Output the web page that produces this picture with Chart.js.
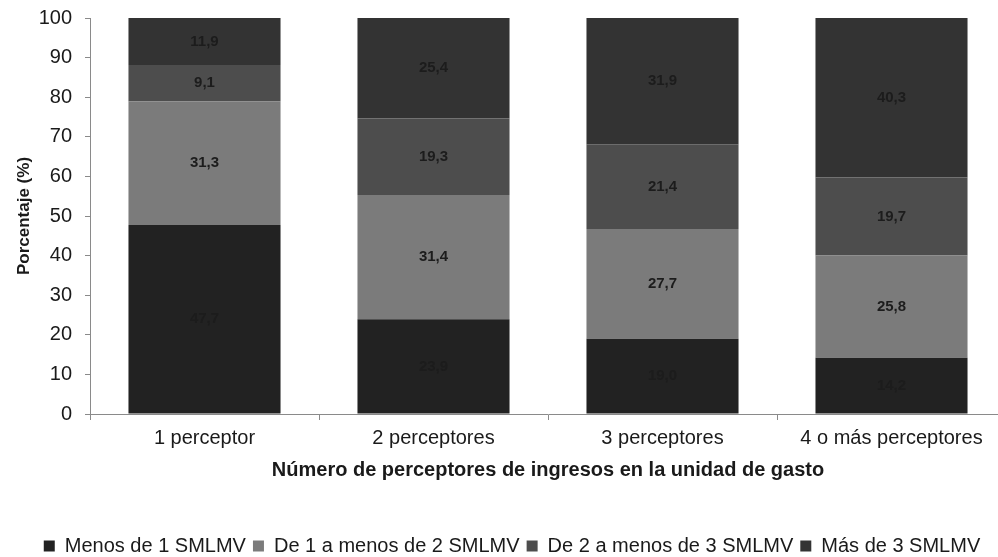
<!DOCTYPE html>
<html>
<head>
<meta charset="utf-8">
<script src="https://cdn.jsdelivr.net/npm/chart.js@4"></script>
<style>
  html, body { margin: 0; padding: 0; background: #fff; overflow: hidden; width: 998px; height: 557px; }
  #wrap { position: absolute; left: 0; top: 0; width: 1006px; height: 557px; }
</style>
</head>
<body>
<div id="wrap"><canvas id="c"></canvas></div>
<script>
const categories = ['1 perceptor', '2 perceptores', '3 perceptores', '4 o más perceptores'];
const seriesNames = ['Menos de 1 SMLMV', 'De 1 a menos de 2 SMLMV', 'De 2 a menos de 3 SMLMV', 'Más de 3 SMLMV'];
const menosDe1 = [47.7, 23.9, 19.0, 14.2];
const de1a2 = [31.3, 31.4, 27.7, 25.8];
const de2a3 = [9.1, 19.3, 21.4, 19.7];
const masDe3 = [11.9, 25.4, 31.9, 40.3];
const yTicks = [0, 10, 20, 30, 40, 50, 60, 70, 80, 90, 100];

const colors = ['#222222', '#7b7b7b', '#4d4d4d', '#333333'];
const FONT = "'Liberation Sans', Arial, sans-serif";

const bgPlugin = {
  id: 'bg',
  beforeDraw(chart) {
    const ctx = chart.ctx;
    ctx.save();
    ctx.fillStyle = '#ffffff';
    ctx.fillRect(0, 0, chart.width, chart.height);
    ctx.restore();
  }
};

const valueLabels = {
  id: 'valueLabels',
  afterDatasetsDraw(chart) {
    const ctx = chart.ctx;
    ctx.save();
    ctx.font = 'bold 15px ' + FONT;
    ctx.textAlign = 'center';
    ctx.textBaseline = 'middle';
    ctx.fillStyle = '#1c1c1c';
    chart.data.datasets.forEach((ds, di) => {
      const meta = chart.getDatasetMeta(di);
      meta.data.forEach((el, i) => {
        const v = ds.data[i];
        const yc = (el.y + el.base) / 2;
        ctx.fillText(v.toFixed(1).replace('.', ','), el.x, yc);
      });
    });
    ctx.restore();
  }
};

const datasets = [menosDe1, de1a2, de2a3, masDe3].map((arr, i) => ({
  label: seriesNames[i],
  data: arr,
  backgroundColor: colors[i],
  borderWidth: 0,
  categoryPercentage: 1.0,
  barPercentage: 0.664
}));

new Chart(document.getElementById('c'), {
  type: 'bar',
  data: { labels: categories, datasets },
  options: {
    responsive: true,
    maintainAspectRatio: false,
    devicePixelRatio: 1,
    animation: false,
    layout: { padding: { left: 18, right: 0, top: 18, bottom: -9 } },
    plugins: {
      legend: {
        display: true,
        position: 'bottom',
        labels: {
          boxWidth: 11,
          boxHeight: 11,
          padding: 7,
          color: '#1a1a1a',
          font: { family: FONT, size: 20 }
        }
      },
      tooltip: { enabled: false }
    },
    scales: {
      x: {
        stacked: true,
        grid: { display: true, drawOnChartArea: false, drawTicks: true, tickLength: 6, color: '#8a8a8a', offset: true },
        border: { display: true, color: '#8a8a8a', width: 1 },
        ticks: { color: '#1a1a1a', font: { family: FONT, size: 20 }, padding: 6, maxRotation: 0 },
        title: {
          display: true,
          text: 'Número de perceptores de ingresos en la unidad de gasto',
          color: '#1a1a1a',
          font: { family: FONT, size: 20, weight: 'bold' },
          padding: { top: 0, bottom: 47 }
        },
        afterFit(scale) { scale.height = 115; }
      },
      y: {
        stacked: true,
        min: 0,
        max: 100,
        afterBuildTicks(scale) { scale.ticks = yTicks.map(v => ({ value: v })); },
        grid: { display: true, drawOnChartArea: false, drawTicks: true, tickLength: 5, color: '#8a8a8a' },
        border: { display: true, color: '#8a8a8a', width: 1 },
        ticks: { color: '#1a1a1a', font: { family: FONT, size: 20, lineHeight: 0.5 }, padding: 13 },
        title: {
          display: true,
          text: 'Porcentaje (%)',
          color: '#1a1a1a',
          font: { family: FONT, size: 17, weight: 'bold' },
          padding: { top: -4, bottom: 0 }
        },
        afterFit(scale) { scale.width = 72; }
      }
    }
  },
  plugins: [bgPlugin, valueLabels]
});
</script>
</body>
</html>
